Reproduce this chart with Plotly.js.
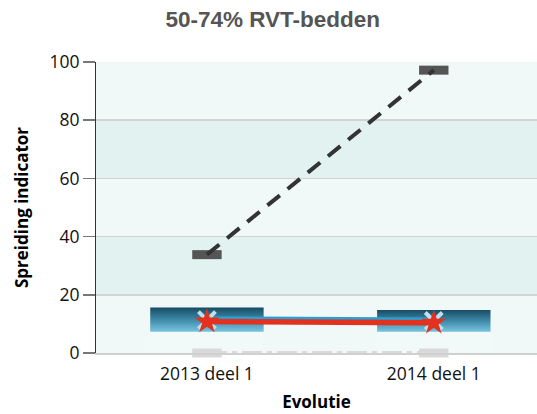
<!DOCTYPE html>
<html>
<head>
<meta charset="utf-8">
<script src="https://cdn.plot.ly/plotly-3.0.1.min.js"></script>
<style>html,body{margin:0;padding:0;background:#fff;overflow:hidden;}</style>
</head>
<body>
<div id="chart" style="width:537px;height:414px;"></div>
<script>
// ---- data ----
const categories = ['2013 deel 1', '2014 deel 1'];
const boxLow = [7.3, 7.3];
const boxHigh = [15.6, 14.8];
const blueLine = [11.9, 11.5];
const crossMarks = [11.3, 11.0];
const redLine = [10.8, 10.4];
const darkLine = [33.8, 97.2];
const grayLine = [0, 0];
const yTicks = [0, 20, 40, 60, 80, 100];
const bands = [[0, 20], [20, 40], [40, 60], [60, 80], [80, 100]];

const xIdx = categories.map((c, i) => i);
const halfW = 0.25;
const traces = [];

// boxes with vertical gradient
categories.forEach((c, i) => {
  traces.push({
    type: 'scatter', mode: 'lines', hoverinfo: 'skip', showlegend: false,
    x: [i - halfW, i + halfW, i + halfW, i - halfW, i - halfW],
    y: [0, 0, boxLow[i], boxLow[i], 0],
    fill: 'toself', fillcolor: 'rgba(255,255,255,0.15)', line: {width: 0}
  });
  traces.push({
    type: 'scatter', mode: 'lines', hoverinfo: 'skip', showlegend: false,
    x: [i - halfW, i + halfW, i + halfW, i - halfW, i - halfW],
    y: [boxLow[i], boxLow[i], boxHigh[i], boxHigh[i], boxLow[i]],
    fill: 'toself',
    fillgradient: {type: 'vertical', colorscale: [[0, '#78c3df'], [0.5, '#3d8aa8'], [1, '#174c64']]},
    line: {width: 0}
  });
});

// gray dash-dot line with light rect markers
traces.push({
  type: 'scatter', mode: 'lines+markers', x: xIdx, y: grayLine, showlegend: false, cliponaxis: false,
  line: {color: '#dadada', width: 4, dash: '20px,5px,5px,5px'},
  marker: {symbol: 'line-ew', size: 21, line: {color: '#d9d9d9', width: 9}}
});

// blue line
traces.push({
  type: 'scatter', mode: 'lines', x: xIdx, y: blueLine, showlegend: false,
  line: {color: '#2a9fd3', width: 4}
});
// light x markers
traces.push({
  type: 'scatter', mode: 'markers', x: xIdx, y: crossMarks, showlegend: false,
  marker: {symbol: 'x-thin', size: 17, line: {color: '#bfe0ec', width: 4}}
});
// red line with stars
traces.push({
  type: 'scatter', mode: 'lines+markers', x: xIdx, y: redLine, showlegend: false,
  line: {color: '#e2321f', width: 5.5},
  marker: {symbol: 'star', size: 19, color: '#e2321f', line: {width: 0}}
});
// dark dashed line with dark rect markers
traces.push({
  type: 'scatter', mode: 'markers', x: xIdx, y: darkLine, showlegend: false,
  marker: {symbol: 'line-ew', size: 21, line: {color: '#555555', width: 9}}
});
traces.push({
  type: 'scatter', mode: 'lines', x: xIdx, y: darkLine, showlegend: false,
  line: {color: '#333333', width: 4, dash: '16px,10px'}
});

const shapes = bands.map((b, i) => ({
  type: 'rect', layer: 'below', xref: 'paper', yref: 'y',
  x0: 0, x1: 1, y0: b[0], y1: b[1],
  fillcolor: i % 2 === 0 ? '#f0f8f8' : '#e2f2f1', line: {width: 0}
}));

const tickFont = {family: 'Open Sans, sans-serif', size: 17.5, color: '#111'};

const layout = {
  width: 537, height: 414,
  margin: {l: 96, r: 0, t: 62, b: 61},
  paper_bgcolor: '#ffffff', plot_bgcolor: '#ffffff',
  showlegend: false,
  title: {
    text: '50-74% RVT-bedden', x: 0.508, xanchor: 'center', y: 0.955, yanchor: 'middle', yref: 'container',
    font: {family: 'Liberation Sans, Arial, sans-serif', size: 22.5, color: '#555555', weight: 700}
  },
  xaxis: {
    range: [-0.489, 1.455], tickmode: 'array', tickvals: xIdx, ticktext: categories,
    showgrid: false, zeroline: false, showline: true, linecolor: '#d0d0d0', linewidth: 2,
    ticks: '', ticklabelstandoff: 4, tickfont: tickFont,
    title: {text: 'Evolutie', standoff: 12, font: {family: 'Open Sans, sans-serif', size: 17, color: '#000', weight: 700}}
  },
  yaxis: {
    range: [0, 100], tickmode: 'array', tickvals: yTicks,
    showgrid: true, gridcolor: '#d3d3d3', gridwidth: 1.5, zeroline: false,
    showline: true, linecolor: '#333333', linewidth: 1,
    ticks: 'outside', ticklen: 12, tickwidth: 1.5, tickcolor: '#777',
    tickfont: tickFont,
    title: {text: 'Spreiding indicator', standoff: 16, font: {family: 'Open Sans, sans-serif', size: 17, color: '#000', weight: 700}}
  },
  shapes: shapes
};

Plotly.newPlot('chart', traces, layout, {displayModeBar: false, staticPlot: true});
</script>
</body>
</html>
